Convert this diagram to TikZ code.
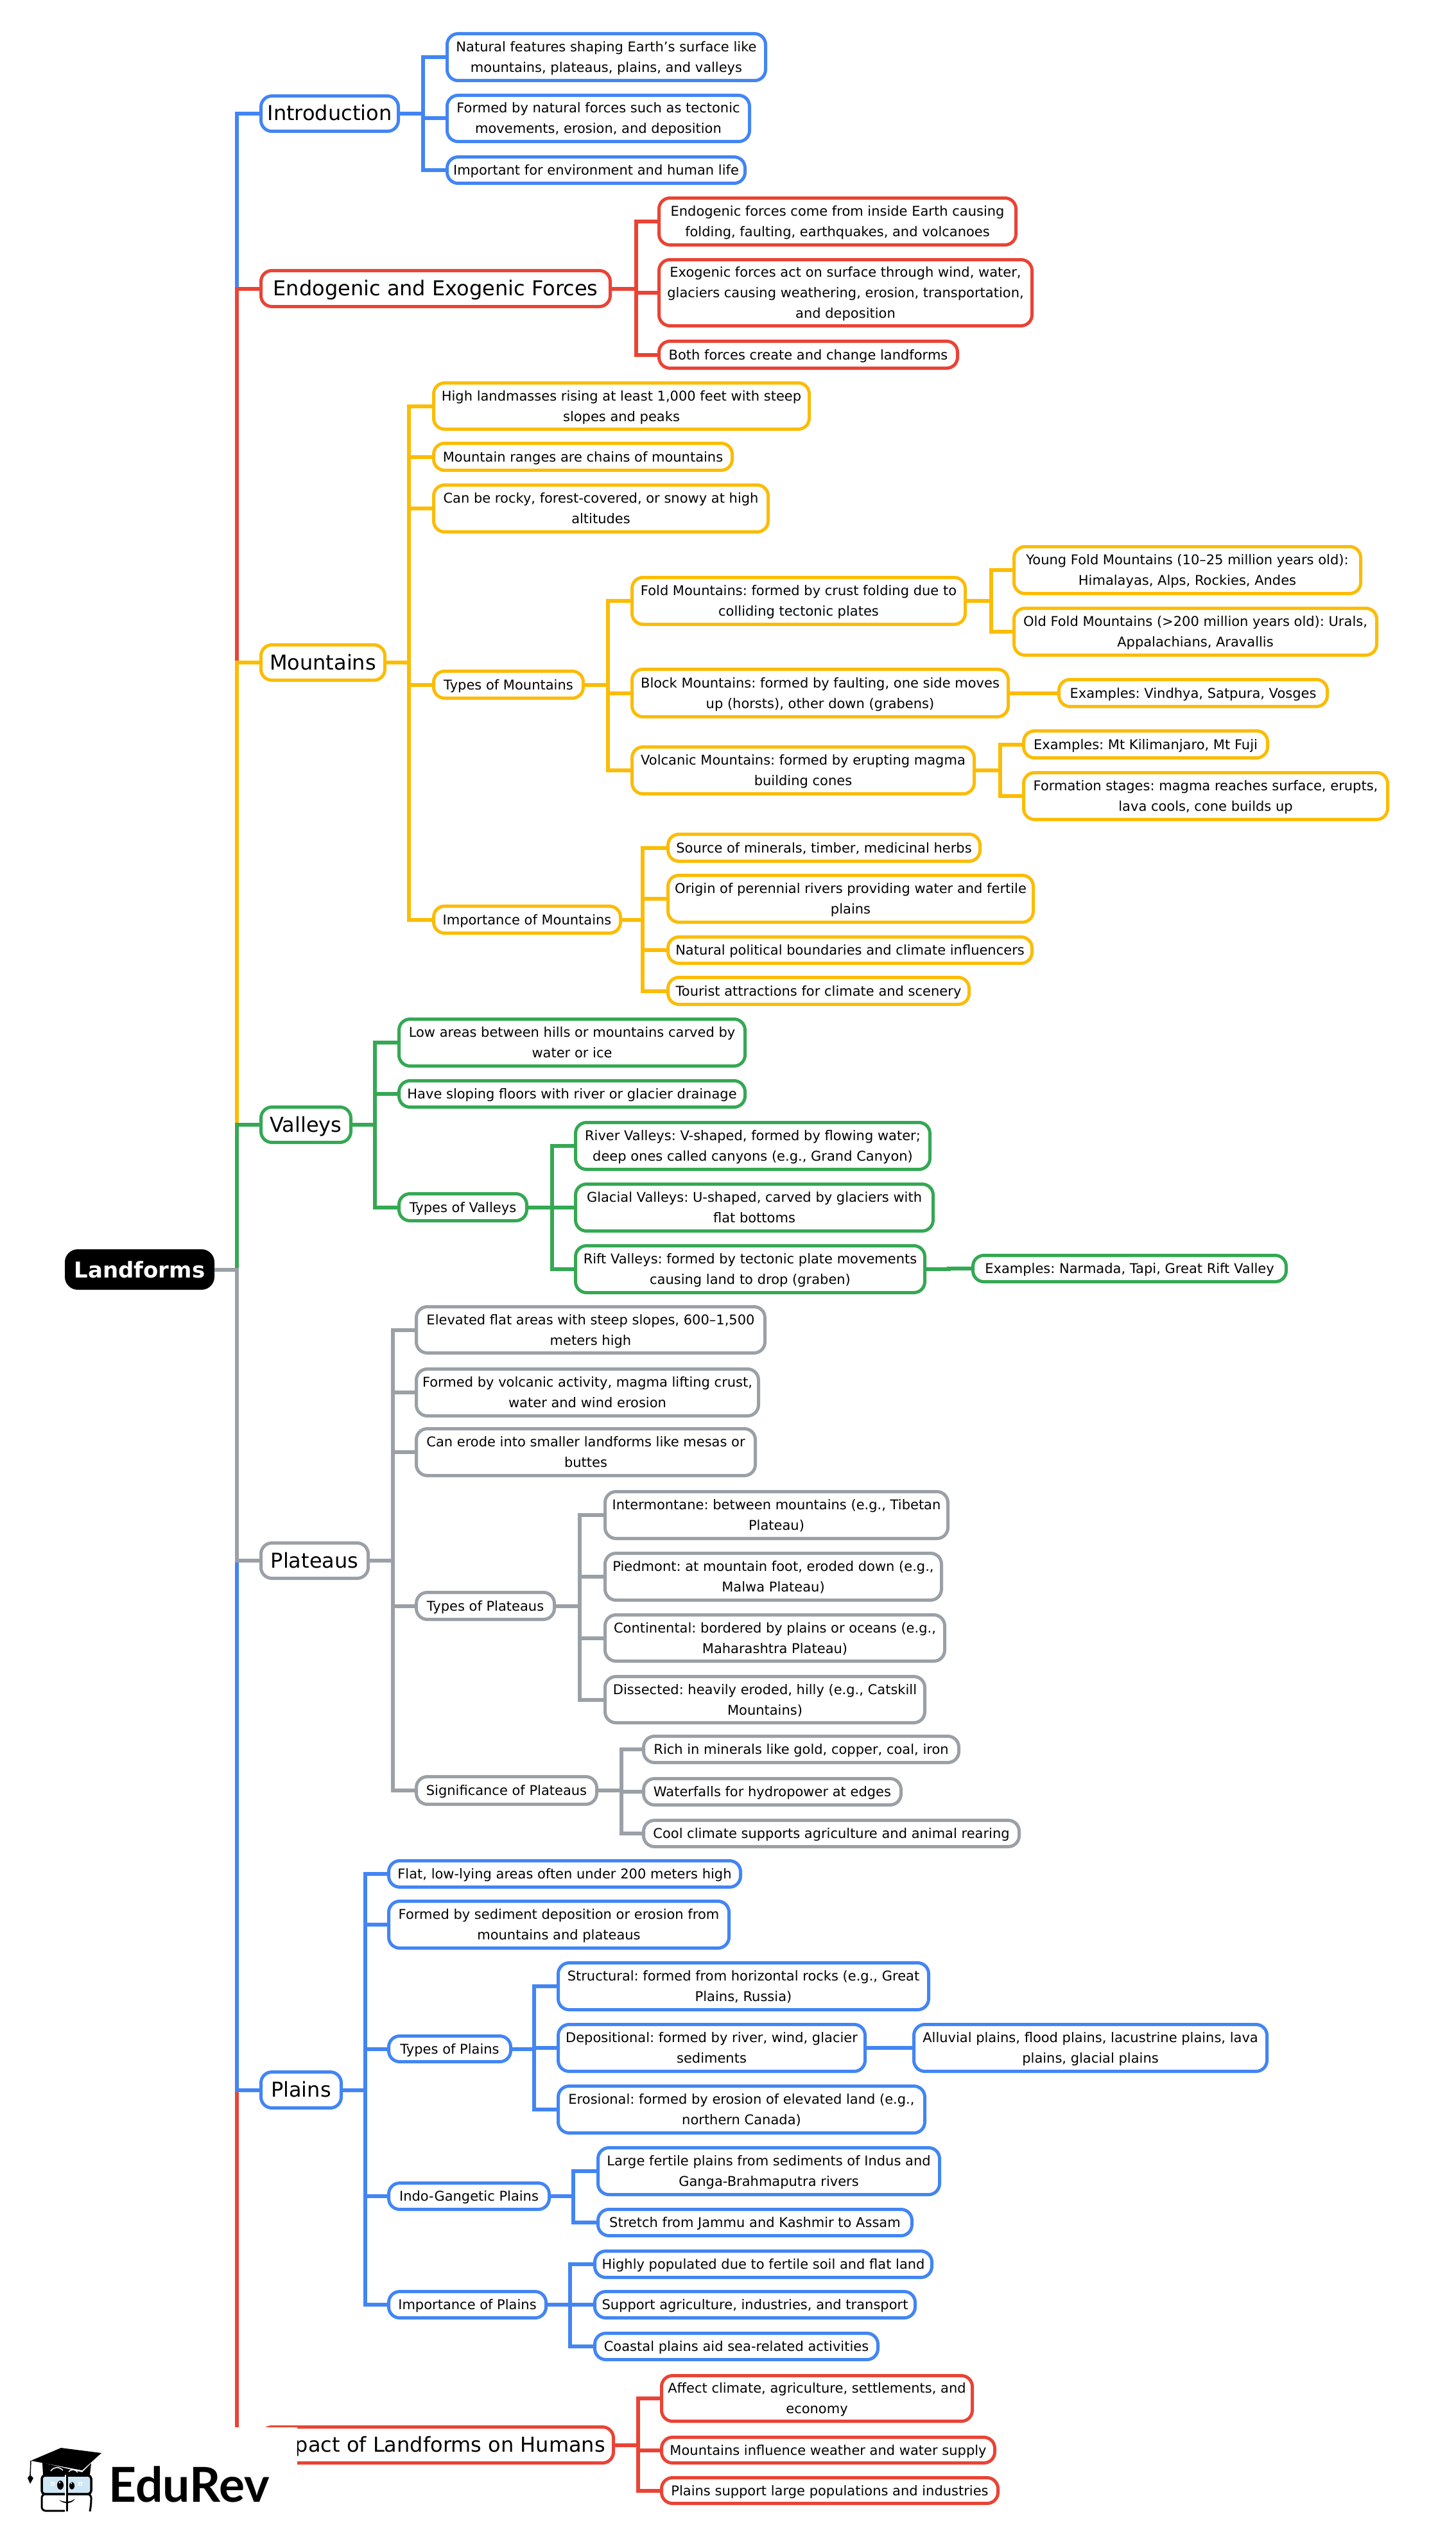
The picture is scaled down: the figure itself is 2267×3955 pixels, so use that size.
\documentclass[tikz,border=0pt]{standalone}
\usepackage{fontspec}
\setmainfont{DejaVu Sans}
\newfontfamily\logofont{Lato}
\definecolor{cblue}{HTML}{4285F4}
\definecolor{cred}{HTML}{EA4335}
\definecolor{cyel}{HTML}{FBBC04}
\definecolor{cgrn}{HTML}{34A853}
\definecolor{cgry}{HTML}{9AA0A6}
\definecolor{cglass}{HTML}{CFE6F5}
\tikzset{
  boxbase/.style={rectangle,rounded corners=17pt,line width=5pt,fill=white,inner sep=0pt,outer sep=0pt,align=center,text=black},
  leaf/.style={boxbase,font=\frenchspacing\fontsize{21}{32}\selectfont},
  branch/.style={boxbase,font=\frenchspacing\fontsize{32}{40}\selectfont},
  rootbox/.style={rectangle,rounded corners=20pt,fill=black,text=white,inner sep=0pt,outer sep=0pt,font=\fontsize{34}{40}\selectfont\bfseries},
  conn/.style={line width=6pt,line join=miter}
}
\newcommand\lf[7]{\node[leaf,draw=#6,minimum width={#4-#2-3},minimum height={#5-#3-3}] (#1) at ({(#2+#4)/2},{(#3+#5)/2}) {\rule{0pt}{21pt}#7\rule[-6pt]{0pt}{6pt}};}
\newcommand\br[7]{\node[branch,draw=#6,minimum width={#4-#2-3},minimum height={#5-#3-3}] (#1) at ({(#2+#4)/2},{(#3+#5)/2}) {\rule{0pt}{32pt}#7\rule[-10pt]{0pt}{10pt}};}
\newcommand\cn[4]{\draw[conn,#4] (#1.east) -- (#3,0 |- #1.east) |- (#2.west);}
\begin{document}
\begin{tikzpicture}[x=1pt,y=-1pt]
\useasboundingbox (0,0) rectangle (2267,3955);
\fill[white] (0,0) rectangle (2267,3955);
% root and branches
\node[rootbox,minimum width=233pt,minimum height=63pt] (root) at (217.5,1977.5) {Landforms};
\br{intro}{405}{148}{622}{206}{cblue}{Introduction}
\br{endo}{405}{420}{952}{479}{cred}{Endogenic and Exogenic Forces}
\br{mount}{405}{1003}{601}{1061}{cyel}{Mountains}
\br{valley}{405}{1723}{548}{1781}{cgrn}{Valleys}
\br{plat}{405}{2402}{575}{2460}{cgry}{Plateaus}
\br{plain}{405}{3226}{533}{3285}{cblue}{Plains}
\br{impact}{405}{3779}{957}{3838}{cred}{Impact of Landforms on Humans}
% introduction
\lf{ia}{695}{51}{1194}{127}{cblue}{Natural features shaping Earth's surface like\\mountains, plateaus, plains, and valleys}
\lf{ib}{695}{147}{1169}{222}{cblue}{Formed by natural forces such as tectonic\\movements, erosion, and deposition}
\lf{ic}{695}{243}{1162}{287}{cblue}{Important for environment and human life}
% forces
\lf{ea}{1025}{307}{1584}{383}{cred}{Endogenic forces come from inside Earth causing\\folding, faulting, earthquakes, and volcanoes}
\lf{eb}{1025}{403}{1609}{509}{cred}{Exogenic forces act on surface through wind, water,\\glaciers causing weathering, erosion, transportation,\\and deposition}
\lf{ec}{1025}{530}{1493}{575}{cred}{Both forces create and change landforms}
% mountains
\lf{ma}{674}{595}{1262}{670}{cyel}{High landmasses rising at least 1,000 feet with steep\\slopes and peaks}
\lf{mb}{674}{689}{1142}{734}{cyel}{Mountain ranges are chains of mountains}
\lf{mc}{674}{754}{1198}{830}{cyel}{Can be rocky, forest-covered, or snowy at high\\altitudes}
\lf{md}{674}{1044}{910}{1089}{cyel}{Types of Mountains}
\lf{me}{674}{1410}{968}{1455}{cyel}{Importance of Mountains}
\lf{fold}{983}{898}{1505}{974}{cyel}{Fold Mountains: formed by crust folding due to\\colliding tectonic plates}
\lf{block}{983}{1041}{1572}{1118}{cyel}{Block Mountains: formed by faulting, one side moves\\up (horsts), other down (grabens)}
\lf{volc}{983}{1162}{1519}{1238}{cyel}{Volcanic Mountains: formed by erupting magma\\building cones}
\lf{young}{1578}{850}{2121}{926}{cyel}{Young Fold Mountains (10–25 million years old):\\Himalayas, Alps, Rockies, Andes}
\lf{old}{1578}{946}{2146}{1022}{cyel}{Old Fold Mountains (>200 million years old): Urals,\\Appalachians, Aravallis}
\lf{exv}{1648}{1057}{2069}{1102}{cyel}{Examples: Vindhya, Satpura, Vosges}
\lf{exk}{1593}{1137}{1976}{1182}{cyel}{Examples: Mt Kilimanjaro, Mt Fuji}
\lf{form}{1593}{1202}{2163}{1278}{cyel}{Formation stages: magma reaches surface, erupts,\\lava cools, cone builds up}
\lf{ma1}{1039}{1298}{1528}{1343}{cyel}{Source of minerals, timber, medicinal herbs}
\lf{ma2}{1039}{1362}{1611}{1438}{cyel}{Origin of perennial rivers providing water and fertile\\plains}
\lf{ma3}{1039}{1458}{1609}{1502}{cyel}{Natural political boundaries and climate influencers}
\lf{ma4}{1039}{1521}{1511}{1566}{cyel}{Tourist attractions for climate and scenery}
% valleys
\lf{va}{620}{1586}{1162}{1662}{cgrn}{Low areas between hills or mountains carved by\\water or ice}
\lf{vb}{620}{1682}{1162}{1726}{cgrn}{Have sloping floors with river or glacier drainage}
\lf{vc}{620}{1858}{822}{1903}{cgrn}{Types of Valleys}
\lf{riv}{895}{1747}{1450}{1823}{cgrn}{River Valleys: V-shaped, formed by flowing water;\\deep ones called canyons (e.g., Grand Canyon)}
\lf{gla}{895}{1843}{1455}{1919}{cgrn}{Glacial Valleys: U-shaped, carved by glaciers with\\flat bottoms}
\lf{rif}{895}{1939}{1442}{2015}{cgrn}{Rift Valleys: formed by tectonic plate movements\\causing land to drop (graben)}
\lf{exr}{1514}{1954}{2005}{1998}{cgrn}{Examples: Narmada, Tapi, Great Rift Valley}
% plateaus
\lf{pa}{647}{2034}{1193}{2109}{cgry}{Elevated flat areas with steep slopes, 600–1,500\\meters high}
\lf{pb}{647}{2131}{1183}{2207}{cgry}{Formed by volcanic activity, magma lifting crust,\\water and wind erosion}
\lf{pc}{647}{2224}{1178}{2300}{cgry}{Can erode into smaller landforms like mesas or\\buttes}
\lf{pd}{647}{2479}{865}{2524}{cgry}{Types of Plateaus}
\lf{pe}{647}{2766}{931}{2812}{cgry}{Significance of Plateaus}
\lf{ta}{941}{2322}{1478}{2398}{cgry}{Intermontane: between mountains (e.g., Tibetan\\Plateau)}
\lf{tb}{941}{2418}{1468}{2494}{cgry}{Piedmont: at mountain foot, eroded down (e.g.,\\Malwa Plateau)}
\lf{tc}{941}{2514}{1473}{2589}{cgry}{Continental: bordered by plains or oceans (e.g.,\\Maharashtra Plateau)}
\lf{td}{941}{2610}{1442}{2685}{cgry}{Dissected: heavily eroded, hilly (e.g., Catskill\\Mountains)}
\lf{sa}{1001}{2703}{1495}{2747}{cgry}{Rich in minerals like gold, copper, coal, iron}
\lf{sb}{1001}{2769}{1405}{2813}{cgry}{Waterfalls for hydropower at edges}
\lf{sc}{1001}{2834}{1589}{2878}{cgry}{Cool climate supports agriculture and animal rearing}
% plains
\lf{la}{604}{2897}{1155}{2941}{cblue}{Flat, low-lying areas often under 200 meters high}
\lf{lb}{604}{2960}{1137}{3036}{cblue}{Formed by sediment deposition or erosion from\\mountains and plateaus}
\lf{lc}{604}{3170}{797}{3213}{cblue}{Types of Plains}
\lf{ld}{604}{3399}{857}{3443}{cblue}{Indo-Gangetic Plains}
\lf{le}{604}{3568}{852}{3612}{cblue}{Importance of Plains}
\lf{da}{868}{3056}{1448}{3132}{cblue}{Structural: formed from horizontal rocks (e.g., Great\\Plains, Russia)}
\lf{db}{868}{3152}{1349}{3228}{cblue}{Depositional: formed by river, wind, glacier\\sediments}
\lf{dc}{868}{3248}{1442}{3324}{cblue}{Erosional: formed by erosion of elevated land (e.g.,\\northern Canada)}
\lf{dd}{1422}{3152}{1975}{3228}{cblue}{Alluvial plains, flood plains, lacustrine plains, lava\\plains, glacial plains}
\lf{na}{930}{3344}{1465}{3420}{cblue}{Large fertile plains from sediments of Indus and\\Ganga-Brahmaputra rivers}
\lf{nb}{930}{3440}{1422}{3484}{cblue}{Stretch from Jammu and Kashmir to Assam}
\lf{ba}{925}{3505}{1453}{3549}{cblue}{Highly populated due to fertile soil and flat land}
\lf{bb}{925}{3568}{1427}{3612}{cblue}{Support agriculture, industries, and transport}
\lf{bc}{925}{3633}{1369}{3677}{cblue}{Coastal plains aid sea-related activities}
% impact
\lf{ha}{1029}{3699}{1516}{3773}{cred}{Affect climate, agriculture, settlements, and\\economy}
\lf{hb}{1029}{3795}{1551}{3838}{cred}{Mountains influence weather and water supply}
\lf{hc}{1029}{3858}{1556}{3901}{cred}{Plains support large populations and industries}
% connectors, trunk
\cn{root}{intro}{369}{cblue}
\cn{root}{endo}{369}{cred}
\cn{root}{mount}{369}{cyel}
\cn{root}{valley}{369}{cgrn}
\cn{root}{impact}{369}{cred}
\cn{root}{plain}{369}{cblue}
\cn{root}{plat}{369}{cgry}
\foreach \c in {ia,ib,ic}{\cn{intro}{\c}{659}{cblue}}
\foreach \c in {ea,eb,ec}{\cn{endo}{\c}{991}{cred}}
\foreach \c in {ma,mb,mc,md,me}{\cn{mount}{\c}{637}{cyel}}
\foreach \c in {fold,block,volc}{\cn{md}{\c}{947}{cyel}}
\foreach \c in {young,old}{\cn{fold}{\c}{1544}{cyel}}
\cn{block}{exv}{1610}{cyel}
\foreach \c in {exk,form}{\cn{volc}{\c}{1558}{cyel}}
\foreach \c in {ma1,ma2,ma3,ma4}{\cn{me}{\c}{1001}{cyel}}
\foreach \c in {va,vb,vc}{\cn{valley}{\c}{584}{cgrn}}
\foreach \c in {riv,gla,rif}{\cn{vc}{\c}{860}{cgrn}}
\cn{rif}{exr}{1478}{cgrn}
\foreach \c in {pa,pb,pc,pd,pe}{\cn{plat}{\c}{611.5}{cgry}}
\foreach \c in {ta,tb,tc,td}{\cn{pd}{\c}{903}{cgry}}
\foreach \c in {sa,sb,sc}{\cn{pe}{\c}{968}{cgry}}
\foreach \c in {la,lb,lc,ld,le}{\cn{plain}{\c}{569}{cblue}}
\foreach \c in {da,db,dc}{\cn{lc}{\c}{832}{cblue}}
\cn{db}{dd}{1385}{cblue}
\foreach \c in {na,nb}{\cn{ld}{\c}{893}{cblue}}
\foreach \c in {ba,bb,bc}{\cn{le}{\c}{888}{cblue}}
\foreach \c in {ha,hb,hc}{\cn{impact}{\c}{994}{cred}}
% logo
\fill[white] (0,3781) rectangle (463,3955);
\fill[black] (48,3833) -- (95,3813) -- (158,3821) -- (128,3848) -- cycle;
\fill[black] (66,3836) -- (128,3851) -- (142,3837) -- (140,3855) -- (67,3855) -- cycle;
\draw[black,line width=1.5pt] (48,3833) -- (47,3857);
\fill[black] (43,3860) -- (47,3855) -- (52,3860) -- (47,3869) -- cycle;
\draw[white,line width=1.5pt] (79,3849) .. controls (84,3842) and (92,3842) .. (98,3848);
\draw[white,line width=1.5pt] (107,3850) .. controls (111,3846) and (117,3846) .. (121,3851);
\draw[black,line width=3.5pt,fill=cglass,rounded corners=5pt] (65,3856) rectangle (142,3885);
\foreach \p in {82,125}{
  \fill[white] (\p-3,3866) rectangle (\p-0.5,3868.5);
  \fill[white] (\p+0.5,3866) rectangle (\p+3,3868.5);
  \fill[white] (\p-3,3869.5) rectangle (\p-0.5,3872);
  \fill[white] (\p+0.5,3869.5) rectangle (\p+3,3872);
}
\draw[black,line width=3pt,rounded corners=6pt] (101,3885) -- (65,3885) -- (65,3911) -- (101,3911);
\draw[black,line width=3pt,rounded corners=6pt] (106,3885) -- (142,3885) -- (142,3900) -- (140,3912);
\draw[white,line width=1.5pt] (102,3855) -- (102,3912);
\draw[black,line width=2.5pt] (104.5,3853) -- (104.5,3912);
\fill[black] (94,3871) ellipse (5 and 7);
\fill[black] (112,3872) ellipse (4 and 6);
\fill[white] (93,3867) circle (1.4);
\fill[white] (111,3868) circle (1.2);
\fill[black] (92,3894) .. controls (100,3898) and (110,3898) .. (117,3892) .. controls (112,3901) and (99,3901) .. (92,3894) -- cycle;
\node[inner sep=0pt,anchor=base west,font=\logofont\fontsize{75}{80}\selectfont\bfseries,text=black] (logo) at (169,3897) {EduRev};
\end{tikzpicture}
\end{document}
